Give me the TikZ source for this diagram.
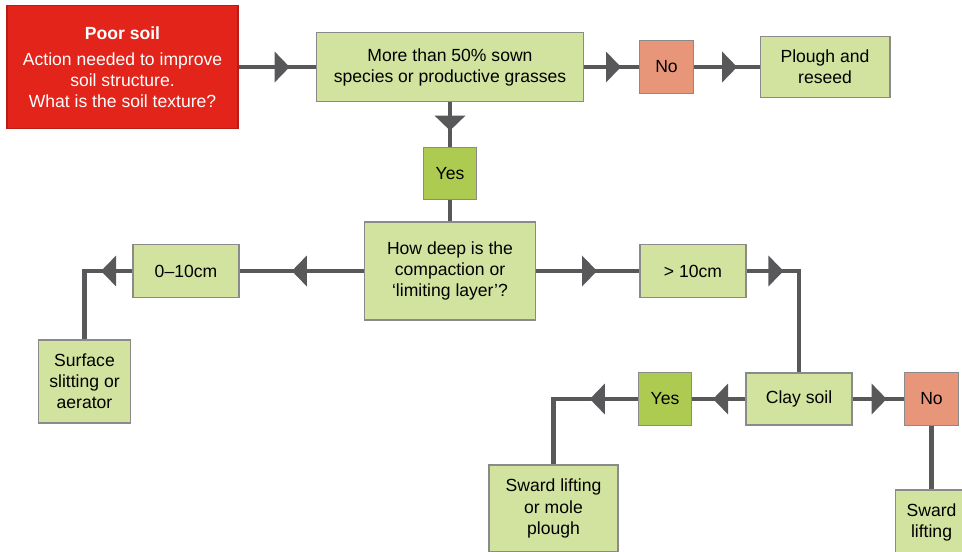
\documentclass[tikz,border=0pt]{standalone}
\usepackage{fontspec}
\setmainfont{Liberation Sans}
\usepackage{tikz}
\usetikzlibrary{arrows.meta, positioning, decorations.markings}

\definecolor{poorred}{HTML}{E3241B}
\definecolor{boxgreen}{HTML}{D2E29F}
\definecolor{yesgreen}{HTML}{AECB51}
\definecolor{nosalmon}{HTML}{E8967A}
\definecolor{linegray}{HTML}{58585A}
\definecolor{edgegray}{HTML}{8A8A8A}

\begin{document}
\begin{tikzpicture}[x=0.02cm, y=-0.02cm, font=\fontsize{10}{12}\selectfont,
            box/.style={draw=edgegray, line width=0.6pt, fill=boxgreen, align=center, inner sep=2pt},
            yesbox/.style={box, fill=yesgreen, minimum width=1.07cm, minimum height=1.05cm},
            nobox/.style={box, fill=nosalmon, minimum width=1.07cm, minimum height=1.05cm},
            link/.style={draw=linegray, line width=0.09cm},
            flow/.style={link, postaction={decorate},
                decoration={markings, mark=at position #1 with {\arrow{Triangle[length=0.3cm, width=0.6cm]}}}},
            flow/.default=0.6]

            \useasboundingbox (0,0) rectangle (962,551);

            % Top row
            \node[box, fill=poorred, draw=poorred!80!black, text=white, minimum width=4.62cm, minimum height=2.46cm] (poor) at (122.5,67)
                {\textbf{Poor soil}\\[3pt]Action needed to improve\\soil structure.\\What is the soil texture?};
            \node[box, minimum width=5.34cm, minimum height=1.38cm] (more) at (450,67) {More than 50\% sown\\species or productive grasses};
            \node[nobox] (no1) at (666.5,67) {No};
            \node[box, minimum width=2.6cm, minimum height=1.22cm] (plough) at (825,67) {Plough and\\reseed};

            % Depth of compaction
            \node[yesbox] (yes1) at (450,173.5) {Yes};
            \node[box, minimum width=3.42cm, minimum height=1.96cm] (deep) at (450,271) {How deep is the\\compaction or\\`limiting layer'?};
            \node[box, minimum width=2.12cm, minimum height=1.06cm] (d010) at (186,271) {0--10cm};
            \node[box, minimum width=1.84cm, minimum height=1.66cm] (surface) at (84.5,381.5) {Surface\\slitting or\\aerator};
            \node[box, minimum width=2.12cm, minimum height=1.06cm] (dgt10) at (693,271) {> 10cm};

            % Clay soil branch
            \node[box, minimum width=2.12cm, minimum height=1.04cm] (clay) at (799,399) {Clay soil};
            \node[yesbox] (yes2) at (665,399) {Yes};
            \node[box, minimum width=2.58cm, minimum height=1.74cm] (sward1) at (553.5,508.5) {Sward lifting\\or mole\\plough};
            \node[nobox] (no2) at (931.5,399) {No};
            \node[box, minimum width=1.44cm, minimum height=1.28cm] (sward2) at (931.5,522) {Sward\\lifting};

            % Connectors
            \draw[flow=0.66] (poor.east) -- (more.west);
            \draw[flow=0.67] (more.east) -- (no1.west);
            \draw[flow=0.66] (no1.east) -- (plough.west);
            \draw[flow=0.64] (more.south) -- (yes1.north);
            \draw[link] (yes1.south) -- (deep.north);
            \draw[flow=0.58] (deep.west) -- (d010.east);
            \draw[flow=0.27] (d010.west) -| (surface.north);
            \draw[flow=0.59] (deep.east) -- (dgt10.west);
            \draw[flow=0.24] (dgt10.east) -| (clay.north);
            \draw[flow=0.61] (clay.west) -- (yes2.east);
            \draw[flow=0.32] (yes2.west) -| (sward1.north);
            \draw[flow=0.66] (clay.east) -- (no2.west);
            \draw[link] (no2.south) -- (sward2.north);
        \end{tikzpicture}
\end{document}
